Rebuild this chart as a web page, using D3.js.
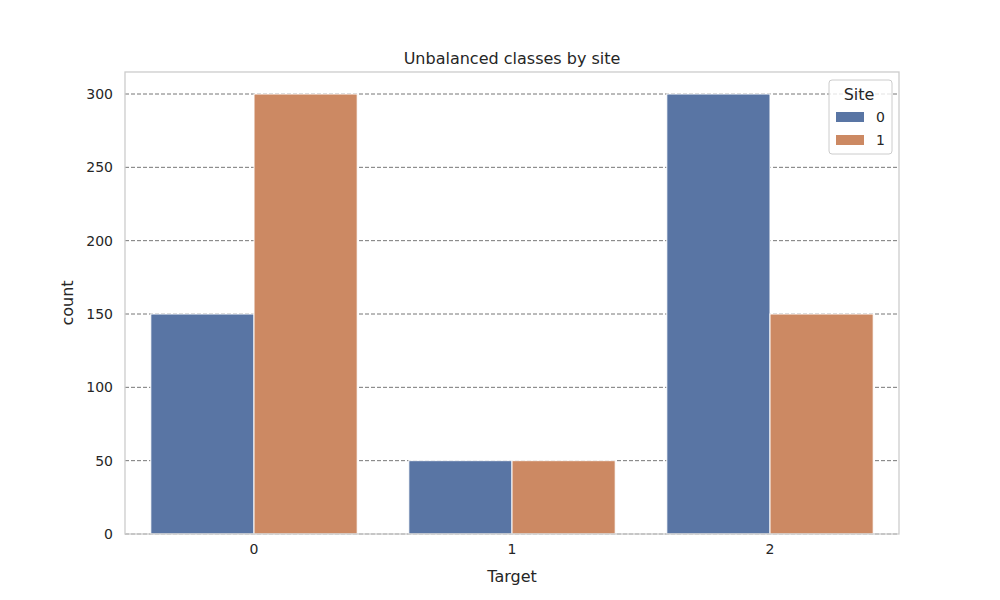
<!DOCTYPE html>
<html><head><meta charset="utf-8">
<script src="https://d3js.org/d3.v7.min.js"></script>
<style>body{margin:0;background:#fff}text{font-family:"DejaVu Sans",sans-serif;fill:#262626}</style>
</head><body><svg width="1000" height="600"></svg>
<script>
const categories=["0","1","2"];
const sites=["0","1"];
const site0=[150,50,300];
const site1=[300,50,150];
const yTicks=[0,50,100,150,200,250,300];
const colors=["#5975a4","#cc8963"];
const svg=d3.select("svg");
const L=125,R=899,T=72,B=534;
const x=d3.scaleBand().domain(categories).range([L,R]).paddingInner(0).paddingOuter(0);
const xs=d3.scaleBand().domain(sites).range([0,x.bandwidth()*0.8]);
const y=d3.scaleLinear().domain([0,315]).range([B,T]);
svg.append("g").selectAll("line").data(yTicks).join("line")
 .attr("x1",L).attr("x2",R).attr("y1",d=>y(d)).attr("y2",d=>y(d))
 .attr("stroke","#777").attr("stroke-dasharray","4,2").attr("stroke-width",1);
const vals=[site0,site1];
sites.forEach((s,si)=>{
 svg.append("g").selectAll("rect").data(categories).join("rect")
  .attr("x",c=>x(c)+x.bandwidth()*0.1+xs(s)).attr("width",xs.bandwidth())
  .attr("y",(c,i)=>y(vals[si][i])).attr("height",(c,i)=>B-y(vals[si][i]))
  .attr("fill",colors[si]).attr("stroke","#fff").attr("stroke-width",1);
});
svg.append("rect").attr("x",L).attr("y",T).attr("width",R-L).attr("height",B-T)
 .attr("fill","none").attr("stroke","#ccc").attr("stroke-width",1.3);
const gx=svg.append("g").attr("transform",`translate(0,${B})`).call(d3.axisBottom(x).tickSize(0).tickPadding(10));
const gy=svg.append("g").attr("transform",`translate(${L},0)`).call(d3.axisLeft(y).tickValues(yTicks).tickSize(0).tickPadding(12));
[gx,gy].forEach(g=>{g.select(".domain").remove();g.selectAll("text").attr("font-size",14).style("font-family","DejaVu Sans").attr("fill","#262626");});
svg.append("text").attr("x",512).attr("y",64).attr("text-anchor","middle").attr("font-size",16).text("Unbalanced classes by site");
svg.append("text").attr("x",512).attr("y",582).attr("text-anchor","middle").attr("font-size",16).text("Target");
svg.append("text").attr("transform","translate(73,303) rotate(-90)").attr("text-anchor","middle").attr("font-size",16).text("count");
const lg=svg.append("g");
lg.append("rect").attr("x",829).attr("y",80).attr("width",63).attr("height",74).attr("rx",3)
 .attr("fill","#fff").attr("fill-opacity",0.8).attr("stroke","#ccc");
lg.append("text").attr("x",859).attr("y",100).attr("text-anchor","middle").attr("font-size",16).text("Site");
sites.forEach((s,i)=>{
 lg.append("rect").attr("x",836).attr("y",112+i*23).attr("width",28).attr("height",10).attr("fill",colors[i]);
 lg.append("text").attr("x",876).attr("y",122+i*23).attr("font-size",14).text(s);
});
</script></body></html>
